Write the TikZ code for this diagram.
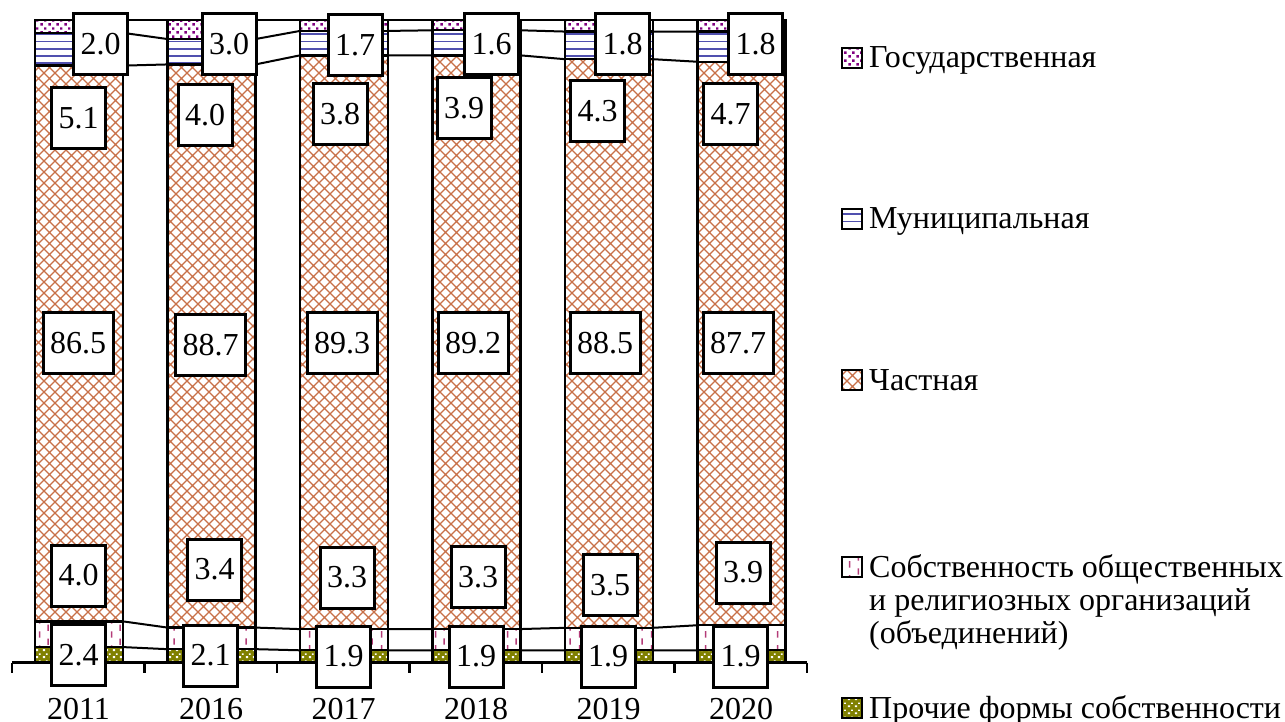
\documentclass[tikz,border=0pt]{standalone}
\usepackage{fontspec}
\setmainfont{Liberation Serif}
\usetikzlibrary{patterns}
\definecolor{gospurple}{RGB}{128,0,128}
\definecolor{munblue}{RGB}{80,80,175}
\definecolor{privbrown}{RGB}{200,112,72}
\definecolor{socpink}{RGB}{180,60,120}
\definecolor{othgreen}{RGB}{128,128,0}
\pgfdeclarepatternformonly{gosdots}{\pgfpoint{0pt}{0pt}}{\pgfpoint{8pt}{8pt}}{\pgfpoint{8pt}{8pt}}{%
 \pgfpathrectangle{\pgfpoint{0.5pt}{0.5pt}}{\pgfpoint{2.6pt}{2.6pt}}%
 \pgfpathrectangle{\pgfpoint{4.5pt}{4.5pt}}{\pgfpoint{2.6pt}{2.6pt}}%
 \pgfusepath{fill}}
\pgfdeclarepatternformonly{munlines}{\pgfpoint{-1pt}{0pt}}{\pgfpoint{41pt}{7.2pt}}{\pgfpoint{40pt}{7.2pt}}{%
 \pgfpathrectangle{\pgfpoint{-1pt}{2.7pt}}{\pgfpoint{42pt}{1.8pt}}\pgfusepath{fill}}
\pgfdeclarepatternformonly{privx}{\pgfpoint{-1pt}{-1pt}}{\pgfpoint{12pt}{12pt}}{\pgfpoint{11pt}{11pt}}{%
 \pgfsetlinewidth{1.2pt}%
 \pgfpathmoveto{\pgfpoint{0pt}{0pt}}\pgfpathlineto{\pgfpoint{11pt}{11pt}}%
 \pgfpathmoveto{\pgfpoint{0pt}{11pt}}\pgfpathlineto{\pgfpoint{11pt}{0pt}}%
 \pgfusepath{stroke}}
\pgfdeclarepatternformonly{socdash}{\pgfpoint{0pt}{0pt}}{\pgfpoint{18pt}{14pt}}{\pgfpoint{18pt}{14pt}}{%
 \pgfpathrectangle{\pgfpoint{3pt}{0.5pt}}{\pgfpoint{1.5pt}{6.5pt}}%
 \pgfpathrectangle{\pgfpoint{12pt}{7.5pt}}{\pgfpoint{1.5pt}{6.5pt}}%
 \pgfusepath{fill}}
\pgfdeclarepatternformonly{othdots}{\pgfpoint{0pt}{0pt}}{\pgfpoint{7pt}{7pt}}{\pgfpoint{7pt}{7pt}}{%
 \pgfpathrectangle{\pgfpoint{1pt}{1pt}}{\pgfpoint{2.5pt}{2pt}}%
 \pgfpathrectangle{\pgfpoint{4.5pt}{4.5pt}}{\pgfpoint{2pt}{1.5pt}}%
 \pgfusepath{fill}}
\tikzset{
 seg/.style={draw=black, line width=2.4pt},
 gos/.style={preaction={fill=white}, pattern=gosdots, pattern color=gospurple},
 mun/.style={preaction={fill=white}, pattern=munlines, pattern color=munblue},
 priv/.style={preaction={fill=white}, pattern=privx, pattern color=privbrown},
 soc/.style={preaction={fill=white}, pattern=socdash, pattern color=socpink},
 oth/.style={preaction={fill=othgreen}, pattern=othdots, pattern color=white},
 serline/.style={draw=black, line width=2pt},
 axisline/.style={draw=black, line width=2.4pt},
 valbox/.style={draw=black, fill=white, line width=3pt, inner xsep=7pt, inner ysep=0pt,
   minimum width=53pt, minimum height=61pt, font=\fontsize{32}{34}\selectfont},
 yearlab/.style={anchor=base, inner sep=0pt, font=\fontsize{32}{34}\selectfont},
 legsq/.style={draw=black, line width=2pt, minimum size=20pt, inner sep=0pt},
 legtext/.style={anchor=base west, inner sep=0pt, align=left, font=\fontsize{32}{33}\selectfont},
}
\begin{document}
\begin{tikzpicture}[x=1pt,y=-1pt]
\useasboundingbox (0,0) rectangle (1285,722);
\fill[white] (0,0) rectangle (1285,722);
% bars
\foreach \n/\vp/\vs/\vc/\vm/\vg in {1/2.4/4.0/86.5/5.1/2.0, 2/2.1/3.4/88.7/4.0/3.0,
  3/1.9/3.3/89.3/3.8/1.7, 4/1.9/3.3/89.2/3.9/1.6, 5/1.9/3.5/88.5/4.3/1.8, 6/1.9/3.9/87.7/4.7/1.8}{
 \pgfmathsetmacro\tot{\vp+\vs+\vc+\vm+\vg}
 \pgfmathsetmacro\xl{35+132.5*(\n-1)}
 \pgfmathsetmacro\xr{\xl+88}
 \pgfmathsetmacro\fA{\vp/\tot}
 \pgfmathsetmacro\fB{(\vp+\vs)/\tot}
 \pgfmathsetmacro\fC{(\vp+\vs+\vc)/\tot}
 \pgfmathsetmacro\fD{(\vp+\vs+\vc+\vm)/\tot}
 \pgfmathsetmacro\yA{662.5-642.5*\fA}
 \pgfmathsetmacro\yB{662.5-642.5*\fB}
 \pgfmathsetmacro\yC{662.5-642.5*\fC}
 \pgfmathsetmacro\yD{662.5-642.5*\fD}
 \draw[seg,oth] (\xl,662.5) rectangle (\xr,\yA);
 \draw[seg,soc] (\xl,\yA) rectangle (\xr,\yB);
 \draw[seg,priv] (\xl,\yB) rectangle (\xr,\yC);
 \draw[seg,mun] (\xl,\yC) rectangle (\xr,\yD);
 \draw[seg,gos] (\xl,\yD) rectangle (\xr,20);
 \foreach \yy [count=\k] in {\yA,\yB,\yC,\yD,20}{
   \coordinate (b\n-\k-L) at (\xl,\yy);
   \coordinate (b\n-\k-R) at (\xr,\yy);
 }
}
% series lines
\foreach \n in {1,...,5}{
 \pgfmathtruncatemacro\nn{\n+1}
 \foreach \k in {1,...,5}{
   \draw[serline] (b\n-\k-R) -- (b\nn-\k-L);
 }
}
% axis
\draw[axisline] (12,662.5) -- (807,662.5);
\foreach \t in {0,...,6}{
 \draw[axisline] (12+132.5*\t,662.5) -- ++(0,10);
}
% value labels
\node[valbox] (g1) at (100.5,44) {2.0};
\node[valbox] (g2) at (229,44) {3.0};
\node[valbox] (g3) at (355,45) {1.7};
\node[valbox] (g4) at (491.5,44) {1.6};
\node[valbox] (g5) at (622.5,44) {1.8};
\node[valbox] (g6) at (755.5,44) {1.8};
\node[valbox] (m1) at (78.5,118.5) {5.1};
\node[valbox] (m2) at (205,115.5) {4.0};
\node[valbox] (m3) at (340,114.5) {3.8};
\node[valbox] (m4) at (464,108.5) {3.9};
\node[valbox] (m5) at (597.5,111.5) {4.3};
\node[valbox] (m6) at (730.5,114.5) {4.7};
\node[valbox] (c1) at (78,343) {86.5};
\node[valbox] (c2) at (210.5,345) {88.7};
\node[valbox] (c3) at (342,343) {89.3};
\node[valbox] (c4) at (473,343) {89.2};
\node[valbox] (c5) at (605,343) {88.5};
\node[valbox] (c6) at (738,343) {87.7};
\node[valbox] (s1) at (78.5,575.5) {4.0};
\node[valbox] (s2) at (214.5,569.5) {3.4};
\node[valbox] (s3) at (347,577.5) {3.3};
\node[valbox] (s4) at (478,577) {3.3};
\node[valbox] (s5) at (610,585) {3.5};
\node[valbox] (s6) at (743,572.5) {3.9};
\node[valbox] (p1) at (78.5,655) {2.4};
\node[valbox] (p2) at (210.5,655.5) {2.1};
\node[valbox] (p3) at (343.5,656.5) {1.9};
\node[valbox] (p4) at (476,656.5) {1.9};
\node[valbox] (p5) at (608,656.5) {1.9};
\node[valbox] (p6) at (740.5,656.5) {1.9};
% years
\node[yearlab] (y1) at (78.5,719) {2011};
\node[yearlab] (y2) at (211,719) {2016};
\node[yearlab] (y3) at (343.5,719) {2017};
\node[yearlab] (y4) at (476,719) {2018};
\node[yearlab] (y5) at (608.5,719) {2019};
\node[yearlab] (y6) at (741,719) {2020};
% legend
\node[legsq,gos] (k1) at (851.5,58.5) {};
\node[legsq,mun] (k2) at (851.5,219.5) {};
\node[legsq,priv] (k3) at (851.5,380) {};
\node[legsq,soc] (k4) at (851.5,566.5) {};
\node[legsq,oth] (k5) at (851.5,707.5) {};
\node[legtext] (t1) at (869,68) {Государственная};
\node[legtext] (t2) at (869,229) {Муниципальная};
\node[legtext] (t3) at (869,390) {Частная};
\node[legtext] (t4) at (869,643) {Собственность общественных\\ и религиозных организаций\\ (объединений)};
\node[legtext] (t5) at (869,718) {Прочие формы собственности};
\end{tikzpicture}
\end{document}
